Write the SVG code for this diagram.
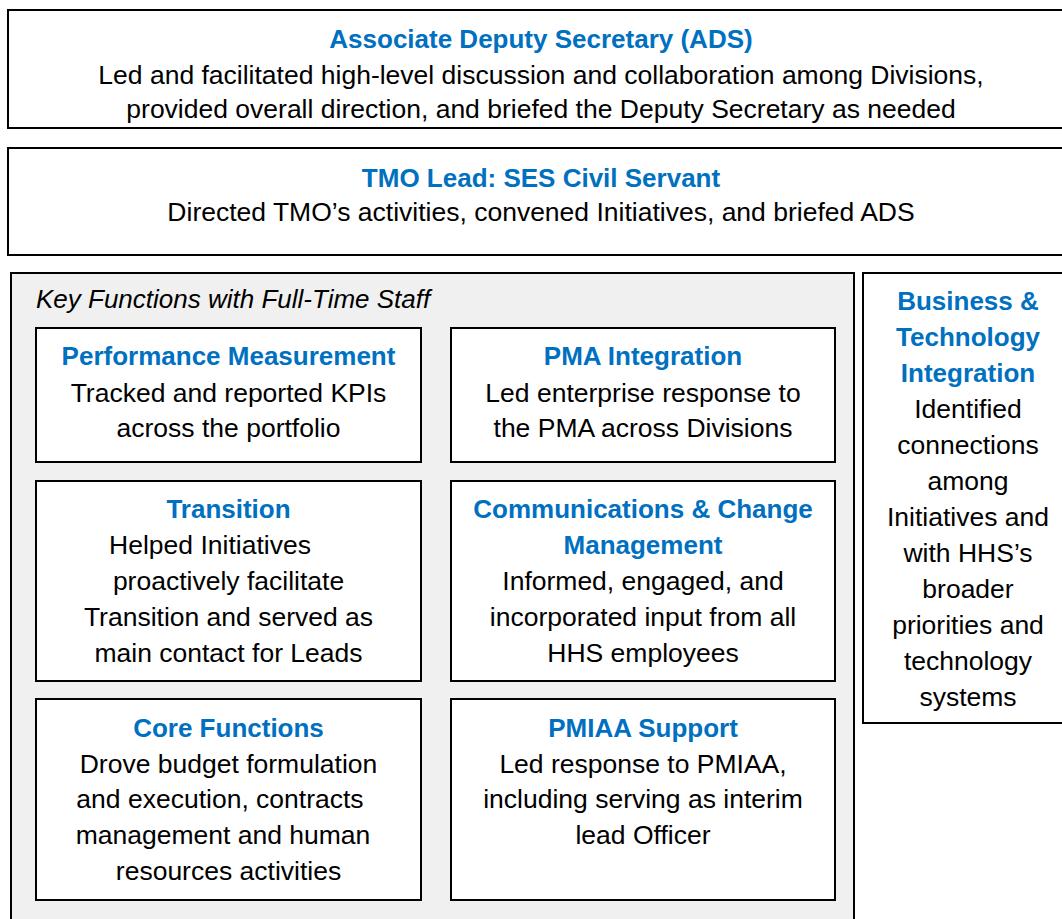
<svg xmlns="http://www.w3.org/2000/svg" width="1062" height="919" viewBox="0 0 1062 919">
  <style>
    .box { fill: #ffffff; stroke: #000000; stroke-width: 2; }
    .panel { fill: #f0f0f0; stroke: #000000; stroke-width: 2; }
    text { font-family: "Liberation Sans", Arial, sans-serif; font-size: 26.5px; fill: #000000; text-anchor: middle; }
    .head { font-weight: bold; font-size: 26px; fill: #0070c0; }
    .label { font-style: italic; font-size: 26px; text-anchor: start; }
  </style>

  <!-- Associate Deputy Secretary -->
  <g id="ads">
    <rect class="box" x="8" y="10" width="1070" height="118"/>
    <text class="head" x="541" y="48">Associate Deputy Secretary (ADS)</text>
    <text x="541" y="84">Led and facilitated high-level discussion and collaboration among Divisions,</text>
    <text x="541" y="118">provided overall direction, and briefed the Deputy Secretary as needed</text>
  </g>

  <!-- TMO Lead -->
  <g id="tmo-lead">
    <rect class="box" x="8" y="148" width="1070" height="107"/>
    <text class="head" x="541" y="187">TMO Lead: SES Civil Servant</text>
    <text x="541" y="221">Directed TMO’s activities, convened Initiatives, and briefed ADS</text>
  </g>

  <!-- Key functions panel -->
  <g id="key-functions">
    <rect class="panel" x="11" y="273" width="843" height="670"/>
    <text class="label" x="36" y="308">Key Functions with Full-Time Staff</text>
  </g>

  <g id="performance-measurement">
    <rect class="box" x="36" y="328" width="385" height="134"/>
    <text class="head" x="228.5" y="365">Performance Measurement</text>
    <text x="228.5" y="402">Tracked and reported KPIs</text>
    <text x="228.5" y="437">across the portfolio</text>
  </g>

  <g id="pma-integration">
    <rect class="box" x="451" y="328" width="384" height="134"/>
    <text class="head" x="643" y="365">PMA Integration</text>
    <text x="643" y="402">Led enterprise response to</text>
    <text x="643" y="437">the PMA across Divisions</text>
  </g>

  <g id="transition">
    <rect class="box" x="36" y="481" width="385" height="200"/>
    <text class="head" x="228.5" y="518">Transition</text>
    <text x="210" y="554">Helped Initiatives</text>
    <text x="228.5" y="590">proactively facilitate</text>
    <text x="228.5" y="626">Transition and served as</text>
    <text x="228.5" y="662">main contact for Leads</text>
  </g>

  <g id="communications">
    <rect class="box" x="451" y="481" width="384" height="200"/>
    <text class="head" x="643" y="518">Communications &amp; Change</text>
    <text class="head" x="643" y="554">Management</text>
    <text x="643" y="590">Informed, engaged, and</text>
    <text x="643" y="626">incorporated input from all</text>
    <text x="643" y="662">HHS employees</text>
  </g>

  <g id="core-functions">
    <rect class="box" x="36" y="699" width="385" height="201"/>
    <text class="head" x="228.5" y="737">Core Functions</text>
    <text x="228.5" y="773">Drove budget formulation</text>
    <text x="220" y="808">and execution, contracts</text>
    <text x="223" y="844">management and human</text>
    <text x="228.5" y="880">resources activities</text>
  </g>

  <g id="pmiaa-support">
    <rect class="box" x="451" y="699" width="384" height="201"/>
    <text class="head" x="643" y="737">PMIAA Support</text>
    <text x="643" y="773">Led response to PMIAA,</text>
    <text x="643" y="808">including serving as interim</text>
    <text x="643" y="844">lead Officer</text>
  </g>

  <!-- Business & Technology Integration -->
  <g id="business-technology">
    <rect class="box" x="863" y="273" width="212" height="450"/>
    <text class="head" x="968" y="310">Business &amp;</text>
    <text class="head" x="968" y="346">Technology</text>
    <text class="head" x="968" y="382">Integration</text>
    <text x="968" y="418">Identified</text>
    <text x="968" y="454">connections</text>
    <text x="968" y="490">among</text>
    <text x="968" y="526">Initiatives and</text>
    <text x="968" y="562">with HHS’s</text>
    <text x="968" y="598">broader</text>
    <text x="968" y="634">priorities and</text>
    <text x="968" y="670">technology</text>
    <text x="968" y="706">systems</text>
  </g>
</svg>
